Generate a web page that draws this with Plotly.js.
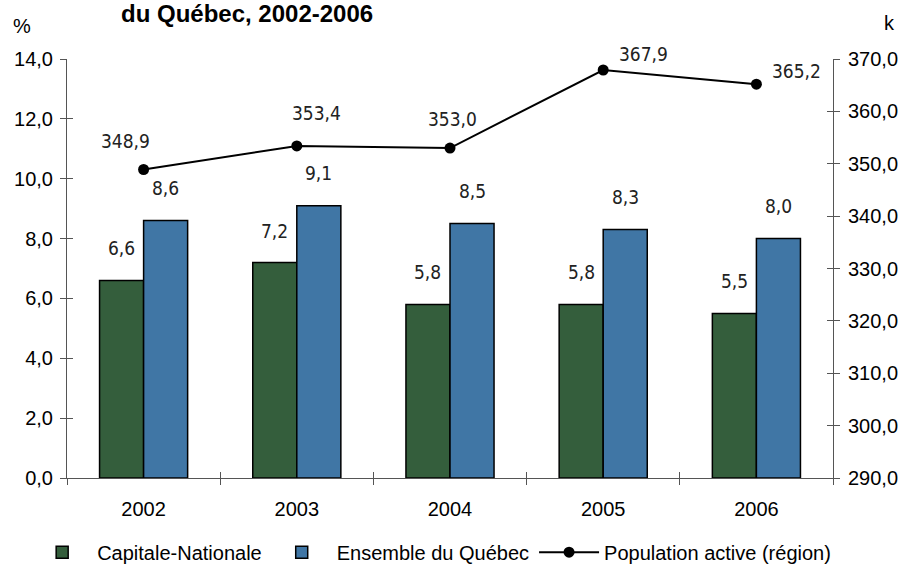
<!DOCTYPE html>
<html>
<head>
<meta charset="utf-8">
<script src="https://cdn.plot.ly/plotly-3.0.1.min.js"></script>
<style>
  html, body { margin: 0; padding: 0; background: #fff; }
  #chart { width: 906px; height: 564px; }
</style>
</head>
<body>
<div id="chart"></div>
<script>
// ---- data ----
const years = ['2002', '2003', '2004', '2005', '2006'];
const capitale = [6.6, 7.2, 5.8, 5.8, 5.5];
const quebec = [8.6, 9.1, 8.5, 8.3, 8.0];
const population = [348.9, 353.4, 353.0, 367.9, 365.2];
const seriesNames = ['Capitale-Nationale', 'Ensemble du Québec', 'Population active (région)'];
const titleText = 'du Québec, 2002-2006';

// ---- styles ----
const GREEN = '#345E3C';
const BLUE = '#4076A5';
const AXIS = '#555555';
const FONT = 'Liberation Sans, Arial, sans-serif';
const NARROW = 'Liberation Sans Narrow, DejaVu Sans Condensed, Liberation Sans, sans-serif';
const BARGAP = 0.425;
const barOffset = (1 - BARGAP) / 4;
// label offsets (pixels) for the population labels
const popShift = [[-18, 29], [20, 33], [2, 29], [40, 16], [40, 13]];

const fmt = v => v.toFixed(1).replace('.', ',');

const traces = [
  {
    type: 'bar', name: seriesNames[0], x: years, y: capitale,
    marker: { color: GREEN, line: { color: '#000', width: 1.5 } },
    hoverinfo: 'skip'
  },
  {
    type: 'bar', name: seriesNames[1], x: years, y: quebec,
    marker: { color: BLUE, line: { color: '#000', width: 1.5 } },
    hoverinfo: 'skip'
  },
  {
    type: 'scatter', mode: 'lines+markers', name: seriesNames[2],
    x: years, y: population, yaxis: 'y2',
    line: { color: '#000', width: 2 },
    marker: { color: '#000', size: 11 },
    hoverinfo: 'skip'
  },
  // dummy traces for the inner half of the cross ticks
  { type: 'scatter', x: years, y: years.map(() => null), xaxis: 'x2', yaxis: 'y', showlegend: false, hoverinfo: 'skip' },
  { type: 'scatter', x: years, y: years.map(() => null), xaxis: 'x', yaxis: 'y3', showlegend: false, hoverinfo: 'skip' },
  { type: 'scatter', x: years, y: years.map(() => null), xaxis: 'x', yaxis: 'y4', showlegend: false, hoverinfo: 'skip' }
];

const labelFont = { family: NARROW, size: 19, color: '#222' };
const annotations = [];
years.forEach((yr, i) => {
  annotations.push({
    xref: 'x', yref: 'y', x: i - barOffset, y: capitale[i], text: fmt(capitale[i]),
    showarrow: false, yanchor: 'middle', xanchor: 'center', yshift: 32, font: labelFont
  });
  annotations.push({
    xref: 'x', yref: 'y', x: i + barOffset, y: quebec[i], text: fmt(quebec[i]),
    showarrow: false, yanchor: 'middle', xanchor: 'center', yshift: 33, font: labelFont
  });
  annotations.push({
    xref: 'x', yref: 'y2', x: i, y: population[i], text: fmt(population[i]),
    showarrow: false, yanchor: 'middle', xanchor: 'center',
    xshift: popShift[i][0], yshift: popShift[i][1], font: labelFont
  });
});
annotations.push({
  xref: 'paper', yref: 'paper', x: -0.0587, y: 1, xanchor: 'center', yanchor: 'bottom', yshift: 20,
  text: '%', showarrow: false, font: { family: FONT, size: 20, color: '#000' }
});
annotations.push({
  xref: 'paper', yref: 'paper', x: 1.074, y: 1, xanchor: 'center', yanchor: 'bottom', yshift: 23,
  text: 'k', showarrow: false, font: { family: FONT, size: 20, color: '#000' }
});
annotations.push({
  xref: 'paper', yref: 'paper', x: 0.2356, y: 1, xanchor: 'center', yanchor: 'bottom', yshift: 30,
  text: '<b>' + titleText + '</b>', showarrow: false, font: { family: FONT, size: 24, color: '#000' }
});

const tickFont = { family: FONT, size: 20, color: '#000' };

const layout = {
  width: 906, height: 564,
  margin: { l: 67, r: 73, t: 59, b: 86, pad: 0, autoexpand: false },
  paper_bgcolor: '#fff', plot_bgcolor: '#fff',
  separators: ', ',
  barmode: 'group', bargap: BARGAP, bargroupgap: 0,
  showlegend: true,
  legend: {
    orientation: 'h', x: -0.052, xanchor: 'left',
    y: -0.177, yanchor: 'middle',
    font: { family: FONT, size: 20, color: '#000' },
    itemwidth: 60, traceorder: 'normal'
  },
  xaxis: {
    type: 'category', categoryarray: years, range: [-0.5, 4.5],
    showline: true, linecolor: AXIS, linewidth: 1,
    ticks: 'outside', tickson: 'boundaries', ticklen: 6, tickcolor: AXIS,
    showgrid: false, zeroline: false, fixedrange: true,
    tickfont: tickFont, ticklabelstandoff: 13
  },
  xaxis2: {
    type: 'category', categoryarray: years, range: [-0.5, 4.5],
    overlaying: 'x', anchor: 'y', side: 'bottom',
    showline: false, ticks: 'inside', tickson: 'boundaries', ticklen: 6, tickcolor: AXIS,
    showticklabels: false, showgrid: false, zeroline: false, fixedrange: true
  },
  yaxis: {
    range: [0, 14], dtick: 2, tickformat: '.1f',
    showline: true, linecolor: AXIS, linewidth: 1,
    ticks: 'outside', ticklen: 6, tickcolor: AXIS,
    showgrid: false, zeroline: false, fixedrange: true,
    tickfont: tickFont, ticklabelstandoff: 3
  },
  yaxis2: {
    range: [290, 370], dtick: 10, tickformat: '.1f',
    overlaying: 'y', side: 'right', anchor: 'x',
    showline: true, linecolor: AXIS, linewidth: 1,
    ticks: 'outside', ticklen: 6, tickcolor: AXIS,
    showgrid: false, zeroline: false, fixedrange: true,
    tickfont: tickFont, ticklabelstandoff: 4
  },
  yaxis3: {
    range: [0, 14], dtick: 2, overlaying: 'y', side: 'left', anchor: 'x',
    showline: false, ticks: 'inside', ticklen: 6, tickcolor: AXIS,
    showticklabels: false, showgrid: false, zeroline: false, fixedrange: true
  },
  yaxis4: {
    range: [290, 370], dtick: 10, overlaying: 'y', side: 'right', anchor: 'x',
    showline: false, ticks: 'inside', ticklen: 6, tickcolor: AXIS,
    showticklabels: false, showgrid: false, zeroline: false, fixedrange: true
  },
  annotations: annotations
};

Plotly.newPlot('chart', traces, layout, { displayModeBar: false, staticPlot: true });
</script>
</body>
</html>
